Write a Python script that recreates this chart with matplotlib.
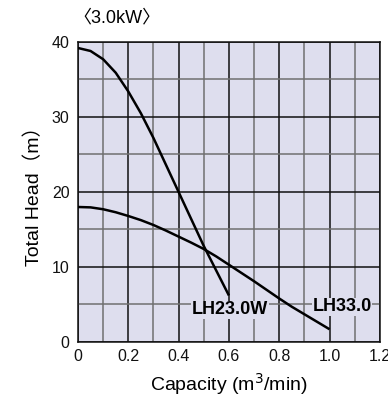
import matplotlib
matplotlib.use("Agg")
import matplotlib.pyplot as plt
from matplotlib.ticker import MultipleLocator

plt.rcParams['font.family'] = ['Liberation Sans', 'Noto Sans CJK JP', 'DejaVu Sans']

# data
q_23w = [0.0, 0.05, 0.1, 0.15, 0.2, 0.25, 0.3, 0.35, 0.4, 0.45, 0.5, 0.55, 0.6]
h_23w = [39.2, 38.8, 37.7, 35.9, 33.4, 30.5, 27.2, 23.6, 20.0, 16.4, 12.8, 9.5, 6.2]

q_33 = [0.0, 0.05, 0.1, 0.15, 0.2, 0.25, 0.3, 0.35, 0.4, 0.45, 0.5, 0.55, 0.6,
        0.65, 0.7, 0.75, 0.8, 0.85, 0.9, 0.95, 1.0]
h_33 = [18.0, 17.95, 17.7, 17.3, 16.8, 16.25, 15.6, 14.85, 14.05, 13.25, 12.4, 11.4, 10.3,
        9.2, 8.1, 6.95, 5.8, 4.7, 3.7, 2.7, 1.7]

series_labels = ["LH23.0W", "LH33.0"]
x_ticks = [0, 0.2, 0.4, 0.6, 0.8, 1.0, 1.2]
x_ticklabels = ["0", "0.2", "0.4", "0.6", "0.8", "1.0", "1.2"]
y_ticks = [0, 10, 20, 30, 40]

bg = "#dedeee"

fig = plt.figure(figsize=(3.88, 3.98), dpi=100)
ax = fig.add_axes([0.201, 0.1407, 0.778, 0.7538])
ax.set_facecolor(bg)
ax.set_xlim(0, 1.2)
ax.set_ylim(0, 40)

ax.xaxis.set_minor_locator(MultipleLocator(0.1))
ax.yaxis.set_minor_locator(MultipleLocator(5))
ax.set_xticks(x_ticks)
ax.set_xticklabels(x_ticklabels)
ax.set_yticks(y_ticks)
ax.grid(which='major', color='#111111', lw=1.1, zorder=1)
ax.grid(which='minor', color='#707070', lw=1.1, zorder=1)
ax.set_axisbelow(True)
ax.tick_params(which='both', length=0, labelsize=11.5, colors='#111111')
ax.tick_params(axis='y', pad=6)
ax.tick_params(axis='x', pad=5)
for s in ax.spines.values():
    s.set_color('#111111')
    s.set_linewidth(1.1)

ax.plot(q_23w, h_23w, color='black', lw=1.8, zorder=3, solid_capstyle='butt',
        solid_joinstyle='round')
ax.plot(q_33, h_33, color='black', lw=1.8, zorder=3, solid_capstyle='butt',
        solid_joinstyle='round')

box = dict(facecolor=bg, edgecolor='none', pad=0.5)
ax.text(0.605, 4.3, series_labels[0], ha='center', va='center', fontsize=13,
        fontweight='bold', bbox=box, zorder=4)
ax.text(1.05, 4.7, series_labels[1], ha='center', va='center', fontsize=13,
        fontweight='bold', bbox=box, zorder=4)

ax.set_xlabel("Capacity (m$^3$/min)", fontsize=14, labelpad=5)
ax.set_ylabel("Total Head（m）", fontsize=14, labelpad=6)

fig.text(0.19, 0.956, "〈3.0kW〉", fontsize=13, ha='left', va='center')

fig.savefig("out.png", dpi=100)
